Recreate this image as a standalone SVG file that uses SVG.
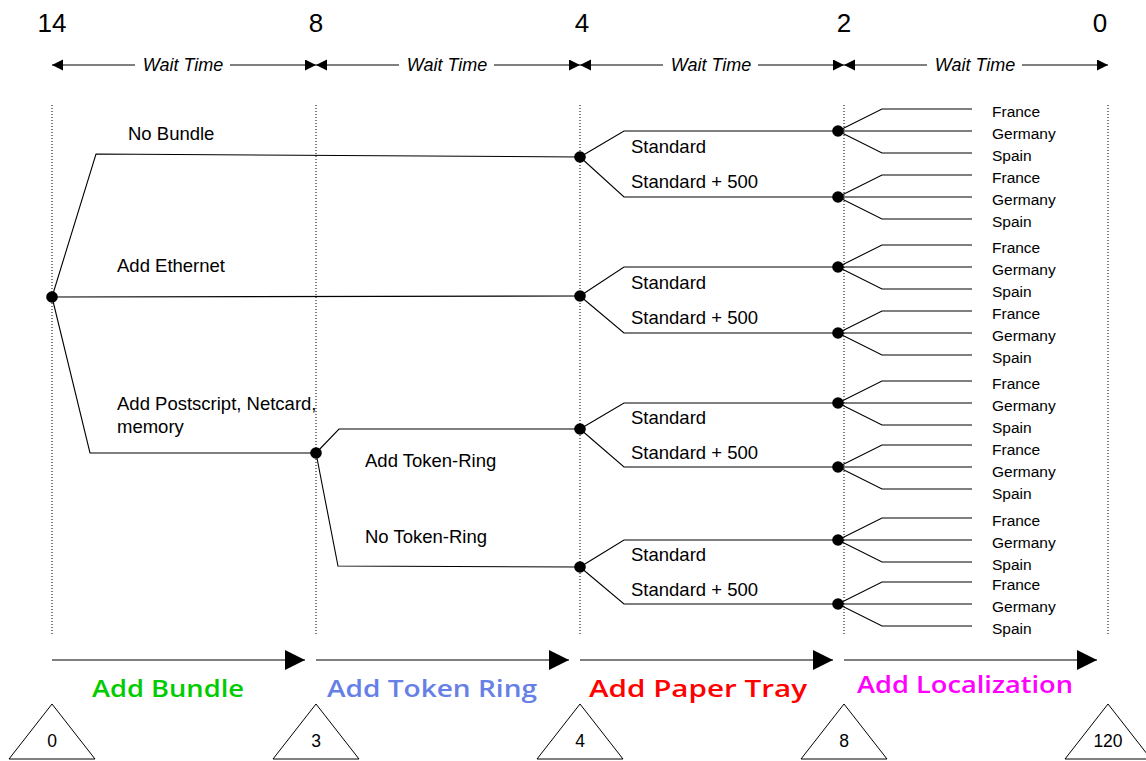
<svg xmlns="http://www.w3.org/2000/svg" xmlns:xlink="http://www.w3.org/1999/xlink" width="1146" height="761" viewBox="0 0 1146 761">
<style>
text{font-family:"Liberation Sans",Arial,sans-serif;fill:#000}
.num{font-size:26px;text-anchor:middle}
.wait{font-size:18px;font-style:italic;text-anchor:middle}
.lbl{font-size:18.5px}
.leaf{font-size:15.5px}
.tri{font-size:17.5px;text-anchor:middle}
.big{font-family:"Comic Sans MS","Open Sans",sans-serif;font-size:24px;font-weight:600}
.edge{fill:none;stroke:#000;stroke-width:1.1}
.grid{stroke:#000;stroke-width:1;stroke-dasharray:1 2}
.axis{stroke:#000;stroke-width:1.1;fill:none}
.dot{fill:#000}
.tri-shape{fill:#fff;stroke:#000;stroke-width:1}
</style>
<defs>
<marker id="sm" markerUnits="userSpaceOnUse" markerWidth="12" markerHeight="12" refX="11" refY="5.5" orient="auto-start-reverse"><path d="M0,0 L11,5.5 L0,11 Z" fill="#000"/></marker>
<marker id="bigarrow" markerUnits="userSpaceOnUse" markerWidth="21" markerHeight="21" refX="20" refY="10" orient="auto"><path d="M0,0 L20,10 L0,20 Z" fill="#000"/></marker>
</defs>
<rect width="1146" height="761" fill="#fff"/>

<g id="gridlines">
<line class="grid" x1="52" y1="105" x2="52" y2="636"/>
<line class="grid" x1="316" y1="105" x2="316" y2="636"/>
<line class="grid" x1="580" y1="105" x2="580" y2="636"/>
<line class="grid" x1="844" y1="105" x2="844" y2="636"/>
<line class="grid" x1="1108" y1="105" x2="1108" y2="636"/>
</g>

<g id="timeline-top">
<text class="num" x="52" y="32">14</text>
<text class="num" x="316" y="32">8</text>
<text class="num" x="582" y="32">4</text>
<text class="num" x="844" y="32">2</text>
<text class="num" x="1100" y="32">0</text>
<line class="axis" x1="52" y1="65" x2="135" y2="65" marker-start="url(#sm)"/>
<line class="axis" x1="230" y1="65" x2="316" y2="65" marker-end="url(#sm)"/>
<text class="wait" x="183" y="71">Wait Time</text>
<line class="axis" x1="316" y1="65" x2="399" y2="65" marker-start="url(#sm)"/>
<line class="axis" x1="494" y1="65" x2="580" y2="65" marker-end="url(#sm)"/>
<text class="wait" x="447" y="71">Wait Time</text>
<line class="axis" x1="580" y1="65" x2="663" y2="65" marker-start="url(#sm)"/>
<line class="axis" x1="758" y1="65" x2="844" y2="65" marker-end="url(#sm)"/>
<text class="wait" x="711" y="71">Wait Time</text>
<line class="axis" x1="844" y1="65" x2="927" y2="65" marker-start="url(#sm)"/>
<line class="axis" x1="1022" y1="65" x2="1108" y2="65" marker-end="url(#sm)"/>
<text class="wait" x="975" y="71">Wait Time</text>
</g>

<g id="connectors">
<polyline class="edge" points="52,297 96,154 580,157"/>
<polyline class="edge" points="52,297 580,296"/>
<polyline class="edge" points="52,297 90,453 316,453"/>
<polyline class="edge" points="316,453 339,429 580,429"/>
<polyline class="edge" points="316,453 338,566 580,567"/>

<polyline class="edge" points="580,157 624,131 838,131"/>
<polyline class="edge" points="580,157 624,197 838,197"/>
<polyline class="edge" points="580,296 624,267 838,267"/>
<polyline class="edge" points="580,296 624,333 838,333"/>
<polyline class="edge" points="580,429 624,403 838,403"/>
<polyline class="edge" points="580,429 624,467 838,467"/>
<polyline class="edge" points="580,567 624,540 838,540"/>
<polyline class="edge" points="580,567 624,604 838,604"/>

<polyline class="edge" points="838,131 882,109 972,109"/><polyline class="edge" points="838,131 972,131"/><polyline class="edge" points="838,131 882,153 972,153"/>
<polyline class="edge" points="838,197 882,175 972,175"/><polyline class="edge" points="838,197 972,197"/><polyline class="edge" points="838,197 882,219 972,219"/>
<polyline class="edge" points="838,267 882,245 972,245"/><polyline class="edge" points="838,267 972,267"/><polyline class="edge" points="838,267 882,289 972,289"/>
<polyline class="edge" points="838,333 882,311 972,311"/><polyline class="edge" points="838,333 972,333"/><polyline class="edge" points="838,333 882,355 972,355"/>
<polyline class="edge" points="838,403 882,381 972,381"/><polyline class="edge" points="838,403 972,403"/><polyline class="edge" points="838,403 882,425 972,425"/>
<polyline class="edge" points="838,467 882,445 972,445"/><polyline class="edge" points="838,467 972,467"/><polyline class="edge" points="838,467 882,489 972,489"/>
<polyline class="edge" points="838,540 882,518 972,518"/><polyline class="edge" points="838,540 972,540"/><polyline class="edge" points="838,540 882,562 972,562"/>
<polyline class="edge" points="838,604 882,582 972,582"/><polyline class="edge" points="838,604 972,604"/><polyline class="edge" points="838,604 882,626 972,626"/>
</g>

<g id="node-root"><circle class="dot" cx="52" cy="297" r="5.8"/></g>
<g id="node-bundle"><circle class="dot" cx="316" cy="453" r="5.8"/></g>
<g id="node-nobundle"><circle class="dot" cx="580" cy="157" r="5.8"/></g>
<g id="node-ethernet"><circle class="dot" cx="580" cy="296" r="5.8"/></g>
<g id="node-tokenring"><circle class="dot" cx="580" cy="429" r="5.8"/></g>
<g id="node-notokenring"><circle class="dot" cx="580" cy="567" r="5.8"/></g>
<g id="node-tray1"><circle class="dot" cx="838" cy="131" r="5.8"/></g>
<g id="node-tray2"><circle class="dot" cx="838" cy="197" r="5.8"/></g>
<g id="node-tray3"><circle class="dot" cx="838" cy="267" r="5.8"/></g>
<g id="node-tray4"><circle class="dot" cx="838" cy="333" r="5.8"/></g>
<g id="node-tray5"><circle class="dot" cx="838" cy="403" r="5.8"/></g>
<g id="node-tray6"><circle class="dot" cx="838" cy="467" r="5.8"/></g>
<g id="node-tray7"><circle class="dot" cx="838" cy="540" r="5.8"/></g>
<g id="node-tray8"><circle class="dot" cx="838" cy="604" r="5.8"/></g>

<g id="branch-labels">
<text class="lbl" x="128" y="140">No Bundle</text>
<text class="lbl" x="117" y="272">Add Ethernet</text>
<text class="lbl" x="117" y="410">Add Postscript, Netcard,</text>
<text class="lbl" x="117" y="433">memory</text>
<text class="lbl" x="365" y="467">Add Token-Ring</text>
<text class="lbl" x="365" y="543">No Token-Ring</text>
<text class="lbl" x="631" y="153">Standard</text>
<text class="lbl" x="631" y="188">Standard + 500</text>
<text class="lbl" x="631" y="289">Standard</text>
<text class="lbl" x="631" y="324">Standard + 500</text>
<text class="lbl" x="631" y="424">Standard</text>
<text class="lbl" x="631" y="459">Standard + 500</text>
<text class="lbl" x="631" y="561">Standard</text>
<text class="lbl" x="631" y="596">Standard + 500</text>
</g>

<g id="leaf-labels">
<text class="leaf" x="992" y="117">France</text><text class="leaf" x="992" y="139">Germany</text><text class="leaf" x="992" y="161">Spain</text>
<text class="leaf" x="992" y="183">France</text><text class="leaf" x="992" y="205">Germany</text><text class="leaf" x="992" y="227">Spain</text>
<text class="leaf" x="992" y="253">France</text><text class="leaf" x="992" y="275">Germany</text><text class="leaf" x="992" y="297">Spain</text>
<text class="leaf" x="992" y="319">France</text><text class="leaf" x="992" y="341">Germany</text><text class="leaf" x="992" y="363">Spain</text>
<text class="leaf" x="992" y="389">France</text><text class="leaf" x="992" y="411">Germany</text><text class="leaf" x="992" y="433">Spain</text>
<text class="leaf" x="992" y="455">France</text><text class="leaf" x="992" y="477">Germany</text><text class="leaf" x="992" y="499">Spain</text>
<text class="leaf" x="992" y="526">France</text><text class="leaf" x="992" y="548">Germany</text><text class="leaf" x="992" y="570">Spain</text>
<text class="leaf" x="992" y="590">France</text><text class="leaf" x="992" y="612">Germany</text><text class="leaf" x="992" y="634">Spain</text>
</g>

<g id="phases">
<line class="axis" x1="52" y1="660" x2="305" y2="660" marker-end="url(#bigarrow)"/>
<line class="axis" x1="316" y1="660" x2="569" y2="660" marker-end="url(#bigarrow)"/>
<line class="axis" x1="580" y1="660" x2="833" y2="660" marker-end="url(#bigarrow)"/>
<line class="axis" x1="844" y1="660" x2="1097" y2="660" marker-end="url(#bigarrow)"/>
<text class="big" x="92" y="697" fill="#00cc00" style="fill:#00cc00" textLength="152" lengthAdjust="spacingAndGlyphs">Add Bundle</text>
<text class="big" x="327" y="697" style="fill:#6680e6" textLength="210" lengthAdjust="spacingAndGlyphs">Add Token Ring</text>
<text class="big" x="589" y="697" style="fill:#ff0000" textLength="218" lengthAdjust="spacingAndGlyphs">Add Paper Tray</text>
<text class="big" x="857" y="693" style="fill:#ff00ff" textLength="216" lengthAdjust="spacingAndGlyphs">Add Localization</text>
</g>

<g id="cost-0"><polygon class="tri-shape" points="52,704 9,759 95,759"/><text class="tri" x="52" y="747">0</text></g>
<g id="cost-3"><polygon class="tri-shape" points="316,704 273,759 359,759"/><text class="tri" x="316" y="747">3</text></g>
<g id="cost-4"><polygon class="tri-shape" points="580,704 537,759 623,759"/><text class="tri" x="580" y="747">4</text></g>
<g id="cost-8"><polygon class="tri-shape" points="844,704 801,759 887,759"/><text class="tri" x="844" y="747">8</text></g>
<g id="cost-120"><polygon class="tri-shape" points="1108,704 1065,759 1151,759"/><text class="tri" x="1108" y="747">120</text></g>
</svg>
